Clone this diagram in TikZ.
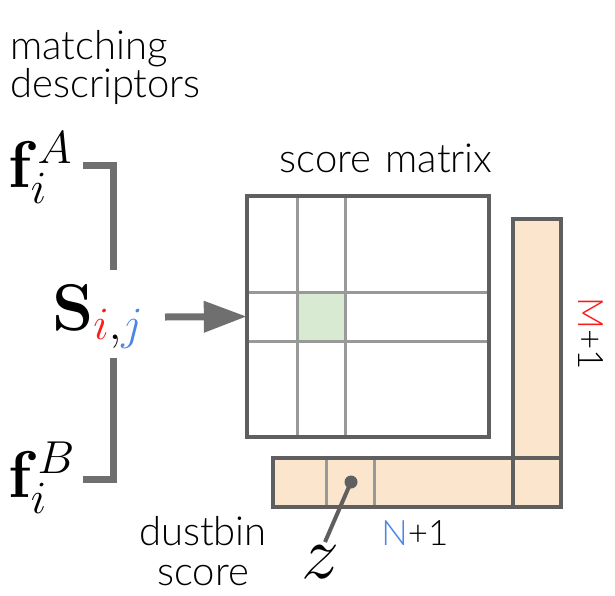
\documentclass[tikz,border=0pt]{standalone}
\usepackage{fix-cm}
\usepackage[no-math]{fontspec}
\setmainfont{Lato Light}
\usetikzlibrary{arrows.meta}
\definecolor{darkg}{HTML}{5F5F5F}
\definecolor{lightg}{HTML}{999999}
\definecolor{peach}{HTML}{FCE5CD}
\definecolor{greencell}{HTML}{D9EAD3}
\definecolor{myred}{HTML}{FF1A1A}
\definecolor{myblue}{HTML}{4A86E8}
\tikzset{
  lbl/.style={font=\fontsize{40}{44}\selectfont, inner sep=0pt},
  sml/.style={font=\fontsize{35}{40}\selectfont, inner sep=0pt},
  mth/.style={font=\fontsize{66}{70}\selectfont, inner sep=0pt},
  outer/.style={draw=darkg, line width=4.5pt},
  inner/.style={draw=lightg, line width=3pt},
  brk/.style={draw=darkg!90, line width=7pt},
}
\begin{document}
\begin{tikzpicture}[x=1pt,y=-1pt]
\useasboundingbox (0,0) rectangle (615,595);
% texts
\node[lbl, anchor=base west] (md) at (10,59) {matching};
\node[lbl, anchor=base west] (md2) at (10,97) {descriptors};
\node[lbl, anchor=base] (sm) at (386,172) {score\hspace{0.36em}matrix};
\node[mth, anchor=base west] (fA) at (8,187) {$\mathbf{f}_i^A$};
\node[mth, anchor=base west] (fB) at (8,497) {$\mathbf{f}_i^B$};
\node[mth, anchor=base west] (S) at (52,330) {$\mathbf{S}_{\textcolor{myred}{i},\textcolor{myblue}{j}}$};
% brackets
\coordinate (bt) at (113,270);
\coordinate (bb) at (113,358);
\draw[brk] (83,165) -| (bt);
\draw[brk] (83,479) -| (bb);
% score matrix
\node[minimum width=242pt, minimum height=241pt, inner sep=0pt] (M) at (368,316.5) {};
\fill[greencell] (297,292) rectangle (345,341);
\draw[inner] (297,197) -- (297,437);
\draw[inner] (345,197) -- (345,437);
\draw[inner] (247,292) -- (489,292);
\draw[inner] (247,341) -- (489,341);
\draw[outer] (247,196) rectangle (489,437);
% dustbins
\fill[peach] (513,219) rectangle (561,507);
\fill[peach] (273,458) rectangle (561,507);
\draw[inner] (326,458) -- (326,507);
\draw[inner] (374,458) -- (374,507);
\draw[outer, line join=miter] (513,458) -- (513,219) -- (561,219) -- (561,507) -- (273,507) -- (273,458) -- (561,458);
\draw[outer] (513,458) -- (513,507);
% arrow
\draw[darkg!90, line width=7pt, -{Triangle[length=43pt,width=30pt]}] (165,317) -- (M.west);
% dot and z
\node[circle, fill=darkg, inner sep=0pt, minimum size=13pt] (dot) at (351,482) {};
\node[font=\fontsize{76}{80}\selectfont, inner sep=0pt] (z) at (320,562) {$z$};
\draw[darkg, line width=4pt] (dot.center) -- (325,542);
% labels
\node[sml, anchor=base] (N) at (415,545) {\textcolor{myblue}{N}+1};
\node[sml, rotate=-90, anchor=base] (Mlab) at (578,334) {\textcolor{myred}{M}+1};
\node[lbl, anchor=base] (ds) at (203,545) {dustbin};
\node[lbl, anchor=base] (ds2) at (203,585) {score};
\end{tikzpicture}
\end{document}
